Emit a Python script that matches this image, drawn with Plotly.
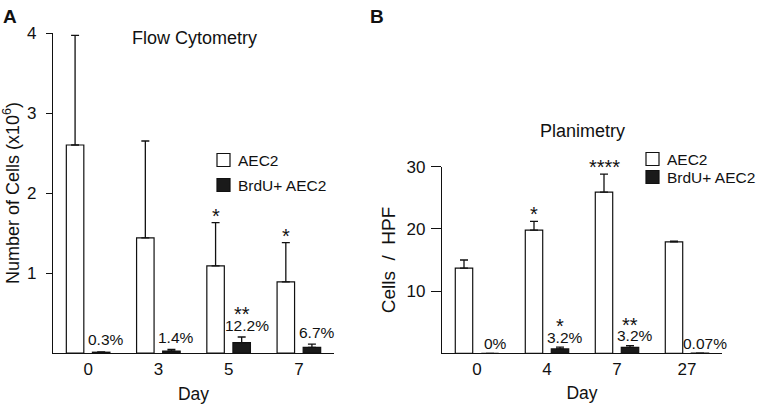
import plotly.graph_objects as go

# ---------------- data ----------------
days_a = ["0", "3", "5", "7"]
aec2_a = [2.60, 1.44, 1.09, 0.89]
aec2_a_err = [1.37, 1.21, 0.54, 0.49]
brdu_a = [0.01, 0.025, 0.13, 0.07]
brdu_a_err = [0.004, 0.02, 0.07, 0.04]
pct_a = ["0.3%", "1.4%", "12.2%", "6.7%"]
star_aec2_a = ["", "", "*", "*"]
star_brdu_a = ["", "", "**", ""]

days_b = ["0", "4", "7", "27"]
aec2_b = [13.7, 19.8, 25.9, 17.9]
aec2_b_err = [1.3, 1.4, 2.9, 0.15]
brdu_b = [0.0, 0.7, 0.95, 0.02]
brdu_b_err = [0.0, 0.3, 0.3, 0.0]
pct_b = ["0%", "3.2%", "3.2%", "0.07%"]
star_aec2_b = ["", "*", "****", ""]
star_brdu_b = ["", "*", "**", ""]

W, H = 758, 405
FONT = "Liberation Sans, Arial, Helvetica, sans-serif"
INK = "#111111"


def fx(p):
    return p / W


def fy(p):
    return 1 - p / H


fig = go.Figure()

panels = [
    ("x", "y", days_a, aec2_a, aec2_a_err, brdu_a, brdu_a_err),
    ("x2", "y2", days_b, aec2_b, aec2_b_err, brdu_b, brdu_b_err),
]
for xa, ya, cats, av, ae, bv, be in panels:
    fig.add_trace(go.Bar(
        x=cats, y=av, xaxis=xa, yaxis=ya, name="AEC2", showlegend=False,
        marker=dict(color="white", line=dict(color=INK, width=1.2)),
        error_y=dict(type="data", symmetric=False, array=ae,
                     arrayminus=[0] * len(ae), color=INK, thickness=1.3, width=4),
    ))
    fig.add_trace(go.Bar(
        x=cats, y=bv, xaxis=xa, yaxis=ya, name="BrdU+ AEC2", showlegend=False,
        marker=dict(color="#1a1a1a", line=dict(color=INK, width=1.2)),
        error_y=dict(type="data", symmetric=False, array=be,
                     arrayminus=[0] * len(be), color=INK, thickness=1.3, width=4),
    ))

annotations = []


def ann(text, x, y, xref, yref, size=15.5, xshift=0, yshift=0, xanchor="center",
        yanchor="middle", bold=False):
    annotations.append(dict(
        text=f"<b>{text}</b>" if bold else text, x=x, y=y, xref=xref, yref=yref,
        showarrow=False, xanchor=xanchor, yanchor=yanchor, xshift=xshift,
        yshift=yshift, font=dict(family=FONT, size=size, color=INK)))


def panel_labels(xa, ya, cats, av, ae, bv, be, pct, sa, sb, pct_lift):
    for i in range(len(cats)):
        if sa[i]:
            ann(sa[i], i, av[i] + ae[i], xa, ya, size=20, xshift=-13, yshift=7)
        ann(pct[i], i, bv[i] + be[i], xa, ya, xshift=18, yshift=pct_lift)
        if sb[i]:
            ann(sb[i], i, bv[i] + be[i], xa, ya, size=20, xshift=13,
                yshift=pct_lift + 11)


panel_labels("x", "y", days_a, aec2_a, aec2_a_err, brdu_a, brdu_a_err,
             pct_a, star_aec2_a, star_brdu_a, 12)
panel_labels("x2", "y2", days_b, aec2_b, aec2_b_err, brdu_b, brdu_b_err,
             pct_b, star_aec2_b, star_brdu_b, 10)

# titles and panel letters
ann("Flow Cytometry", fx(194), fy(38), "paper", "paper", size=18)
ann("Planimetry", fx(582), fy(131), "paper", "paper", size=18)
ann("A", fx(10), fy(16), "paper", "paper", size=19, bold=True)
ann("B", fx(377), fy(16), "paper", "paper", size=19, bold=True)

# legends (manual swatches)
shapes = []
legends = [
    (217, [160, 185]),
    (646, [159, 177]),
]
for lx, rows in legends:
    for (ly, label, fill) in zip(rows, ["AEC2", "BrdU+ AEC2"], ["white", "#1a1a1a"]):
        shapes.append(dict(type="rect", xref="paper", yref="paper",
                           x0=fx(lx), x1=fx(lx + 13), y0=fy(ly - 6.5), y1=fy(ly + 6.5),
                           fillcolor=fill, line=dict(color=INK, width=1.2)))
        ann(label, fx(lx + 19), fy(ly), "paper", "paper", size=15.5, xanchor="left")

axis_common = dict(showline=True, linecolor=INK, linewidth=1.3, showgrid=False,
                   zeroline=False, automargin=False,
                   tickfont=dict(family=FONT, size=17, color=INK))
title_font = dict(family=FONT, size=18, color=INK)
day_font = dict(family=FONT, size=17.5, color=INK)

fig.update_layout(
    width=W, height=H,
    margin=dict(l=0, r=0, t=0, b=0),
    paper_bgcolor="white", plot_bgcolor="white",
    barmode="group", bargap=0.257, bargroupgap=0.33,
    showlegend=False,
    font=dict(family=FONT, color=INK),
    xaxis=dict(domain=[fx(53), fx(334)], anchor="y", range=[-0.5, 3.5],
               ticks="", type="category",
               title=dict(text="Day", font=day_font, standoff=10),
               **axis_common),
    yaxis=dict(domain=[fy(353), fy(33)], anchor="x", range=[0, 4],
               tickvals=[1, 2, 3, 4], ticks="outside", ticklen=6, tickwidth=1.3,
               tickcolor=INK, ticklabelstandoff=6,
               title=dict(text="Number of Cells (x10<sup>6</sup>)",
                          font=title_font, standoff=3),
               **axis_common),
    xaxis2=dict(domain=[fx(442), fx(722)], anchor="y2", range=[-0.5, 3.5],
                ticks="", type="category",
                title=dict(text="Day", font=day_font, standoff=8),
                **axis_common),
    yaxis2=dict(domain=[fy(353.3), fy(166.7)], anchor="x2", range=[0, 30],
                tickvals=[10, 20, 30], ticks="outside", ticklen=10, tickwidth=1.3,
                tickcolor=INK, ticklabelstandoff=2,
                title=dict(text="Cells&nbsp;&nbsp;/&nbsp;&nbsp;HPF",
                           font=dict(family=FONT, size=19, color=INK), standoff=5),
                **axis_common),
    annotations=annotations,
    shapes=shapes,
)

fig.write_html("out.html", post_script="document.body.style.margin='0px';",
               config={"displayModeBar": False})
